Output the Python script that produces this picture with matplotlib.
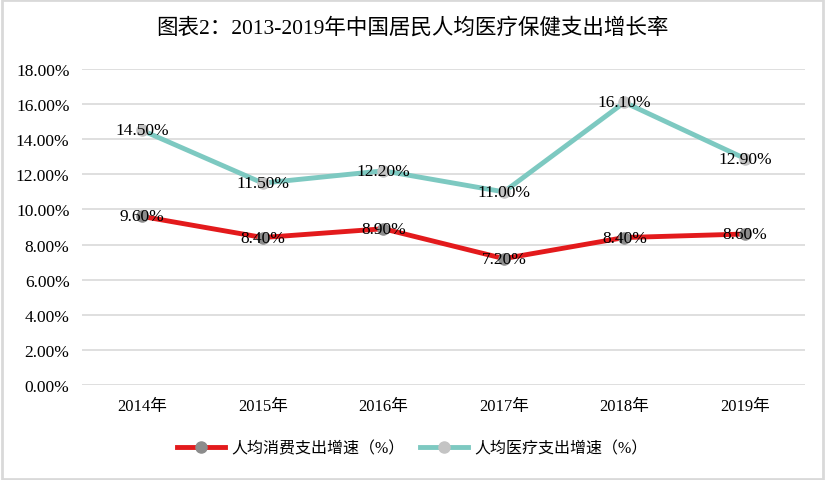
import numpy as np
import matplotlib.pyplot as plt
from matplotlib.patches import Rectangle

plt.rcParams['font.family'] = ['Liberation Serif', 'Noto Sans CJK SC', 'DejaVu Sans']

years = ["2014年", "2015年", "2016年", "2017年", "2018年", "2019年"]
consume = np.array([9.6, 8.4, 8.9, 7.2, 8.4, 8.6])
medical = np.array([14.5, 11.5, 12.2, 11.0, 16.1, 12.9])

fig = plt.figure(figsize=(8.25, 4.81), dpi=100)
ax = fig.add_axes([0.0994, 0.1975, 0.8766, 0.657])
x = np.arange(len(years))

ax.plot(x, consume, color="#E31A1C", lw=3.5, marker="o", ms=8,
        mfc="#8C8C8C", mec="#8C8C8C", label="人均消费支出增速（%）", zorder=3)
ax.plot(x, medical, color="#7DC9C1", lw=3.5, marker="o", ms=8,
        mfc="#C4C4C4", mec="#C4C4C4", label="人均医疗支出增速（%）", zorder=3)

for xi, v in zip(x, consume):
    ax.text(xi, v, f"{v:.2f}%", ha="center", va="center", fontsize=12.5, zorder=4)
for xi, v in zip(x, medical):
    ax.text(xi, v, f"{v:.2f}%", ha="center", va="center", fontsize=12.5, zorder=4)

ax.set_xlim(-0.5, len(years) - 0.5)
ax.set_ylim(0, 18)
ax.set_yticks(np.arange(0, 19, 2))
ax.set_yticklabels([f"{t:.2f}%" for t in np.arange(0, 19, 2)], fontsize=12.5)
ax.set_xticks(x)
ax.set_xticklabels(years, fontsize=12)
ax.tick_params(length=0, pad=9)
ax.grid(axis="y", color="#D9D9D9", lw=1.2)
ax.set_axisbelow(True)
for s in ax.spines.values():
    s.set_visible(False)

fig.text(0.5, 0.942, "图表2：2013-2019年中国居民人均医疗保健支出增长率",
         ha="center", va="center", fontsize=15.5)
fig.legend(loc="center", bbox_to_anchor=(0.5, 0.065), ncol=2, frameon=False,
           fontsize=11.5, handlelength=3, columnspacing=1.0, handletextpad=0.4)

fig.patches.append(Rectangle((0.002, 0.003), 0.996, 0.994, transform=fig.transFigure,
                             fill=False, ec="#D9D9D9", lw=2))
fig.savefig("out.png", dpi=100)
